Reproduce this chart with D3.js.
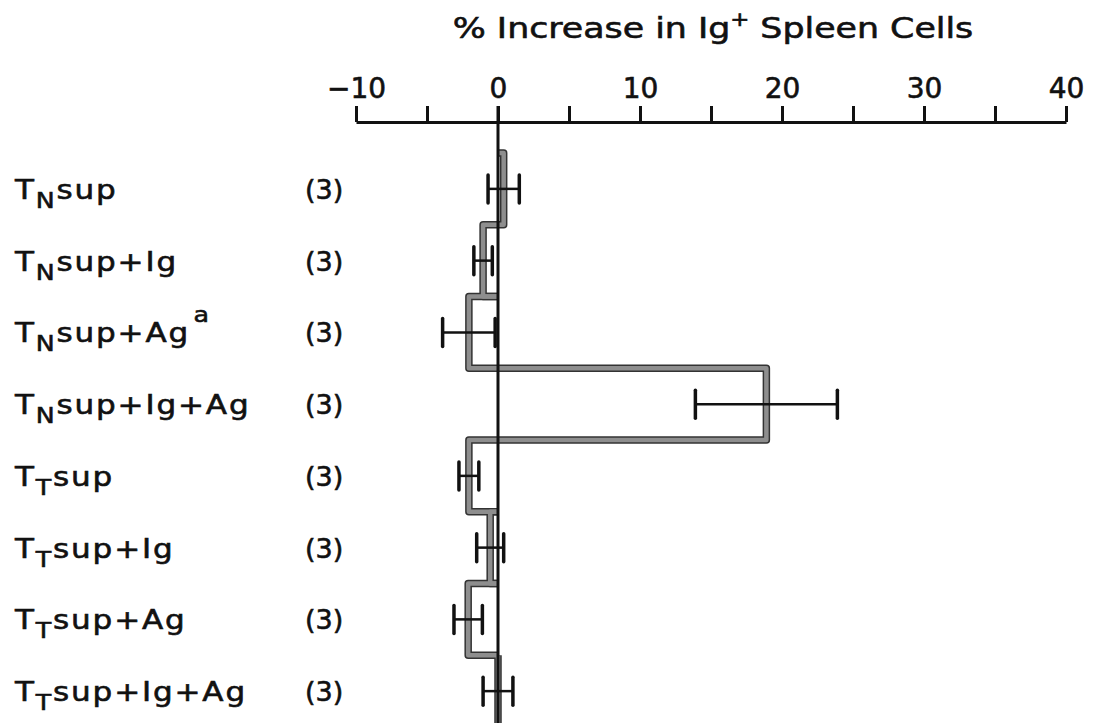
<!DOCTYPE html>
<html><head><meta charset="utf-8">
<script src="https://cdn.jsdelivr.net/npm/d3@7"></script>
<style>body{margin:0;background:#fff} svg{display:block}</style>
</head><body>
<svg id="c" width="1096" height="723"></svg>
<script>
// ---- data ----
const categories = ["TNsup","TNsup+Ig","TNsup+Ag","TNsup+Ig+Ag","TTsup","TTsup+Ig","TTsup+Ag","TTsup+Ig+Ag"];
const subscripts = ["N","N","N","N","T","T","T","T"];
const suffixes = ["sup","sup+Ig","sup+Ag","sup+Ig+Ag","sup","sup+Ig","sup+Ag","sup+Ig+Ag"];
const footnotes = ["","","a","","","","",""];
const nCounts = ["(3)","(3)","(3)","(3)","(3)","(3)","(3)","(3)"];
const values = [0.4, -1.05, -2.05, 18.9, -2.05, -0.55, -2.1, 0.0];
const errors = [1.1, 0.65, 1.85, 5.0, 0.7, 0.95, 1.0, 1.05];
const tickValues = [-10,-5,0,5,10,15,20,25,30,35,40];
const tickLabels = ["\u221210","","0","","10","","20","","30","","40"];
const titleMain = "% Increase in Ig";
const titleSup = "+";
const titleRest = " Spleen Cells";

// ---- layout ----
const svg = d3.select("#c");
const x = d3.scaleLinear().domain([-10,40]).range([356,1066]);
const y = d3.scaleBand().domain(categories).range([153,727]).padding(0);
const axisY = 122;
const font = "'DejaVu Sans', sans-serif";
const ink = "#111";

// title
const tg = svg.append("g").attr("transform","translate(713,38) scale(1.2,1)");
const tt = tg.append("text").attr("text-anchor","middle").attr("font-family",font)
  .attr("font-size",29).attr("fill",ink).attr("stroke",ink).attr("stroke-width",0.6);
tt.append("tspan").text(titleMain);
tt.append("tspan").attr("dy",-12).attr("font-size",19).text(titleSup);
tt.append("tspan").attr("dy",12).text(titleRest);

// axis
const axis = d3.axisTop(x).tickValues(tickValues).tickSize(16).tickSizeOuter(0).tickPadding(8)
  .tickFormat((d,i)=>tickLabels[i]);
const ag = svg.append("g").attr("transform",`translate(0,${axisY})`).call(axis);
ag.select(".domain").attr("stroke",ink).attr("stroke-width",3);
ag.selectAll(".tick line").attr("stroke",ink).attr("stroke-width",3);
ag.selectAll(".tick text").attr("font-family",font).attr("font-size",28).attr("fill",ink)
  .attr("stroke",ink).attr("stroke-width",0.6);

// bars (step outline)
const bars = svg.append("g");
const barPath = (d,i)=>{
  const t = y(categories[i]), b = t + y.bandwidth();
  return `M${x(0)},${t}H${x(d)}V${b}H${x(0)}`;
};
bars.selectAll("path.o").data(values).join("path").attr("class","o")
  .attr("d",barPath).attr("fill","none").attr("stroke","#333").attr("stroke-width",7.5)
  .attr("stroke-linejoin","round");
bars.selectAll("path.i").data(values).join("path").attr("class","i")
  .attr("d",barPath).attr("fill","none").attr("stroke","#8e8e8e").attr("stroke-width",4.5)
  .attr("stroke-linejoin","round");

// zero line
svg.append("line").attr("x1",x(0)).attr("x2",x(0)).attr("y1",axisY-16).attr("y2",723)
  .attr("stroke",ink).attr("stroke-width",3);

// error bars
const eb = svg.append("g").attr("stroke",ink);
values.forEach((v,i)=>{
  const cy = y(categories[i]) + y.bandwidth()/2;
  const e = errors[i];
  eb.append("line").attr("x1",x(v-e)).attr("x2",x(v+e)).attr("y1",cy).attr("y2",cy).attr("stroke-width",2.5);
  [v-e, v+e].forEach(xx=>{
    eb.append("line").attr("x1",x(xx)).attr("x2",x(xx)).attr("y1",cy-14).attr("y2",cy+14)
      .attr("stroke-width",3.5).attr("stroke-linecap","round");
  });
});

// row labels
categories.forEach((c,i)=>{
  const cy = y(c) + y.bandwidth()/2 + 10;
  const g = svg.append("g").attr("transform",`translate(15,${cy}) scale(1.15,1)`);
  const t = g.append("text").attr("font-family",font).attr("font-size",27).attr("fill",ink)
    .attr("stroke",ink).attr("stroke-width",0.6).attr("letter-spacing",1.6);
  t.append("tspan").text("T");
  t.append("tspan").attr("dy",9).attr("font-size",22).text(subscripts[i]);
  t.append("tspan").attr("dy",-9).text(suffixes[i]);
  if (footnotes[i]) t.append("tspan").attr("dy",-20).attr("dx",3).attr("font-size",22).text(footnotes[i]);
  svg.append("text").attr("x",305).attr("y",cy).attr("font-family",font).attr("font-size",27)
    .attr("fill",ink).attr("stroke",ink).attr("stroke-width",0.6).text(nCounts[i]);
});
</script>
</body></html>
